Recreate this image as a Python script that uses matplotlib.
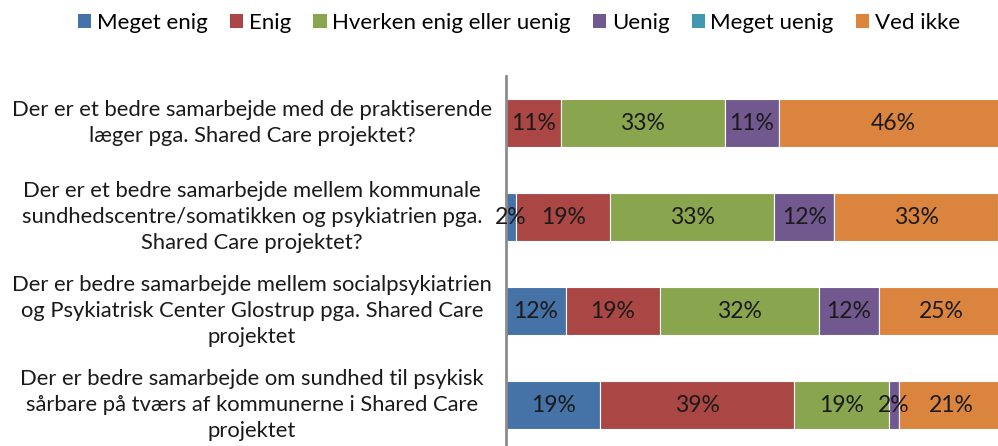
import matplotlib.pyplot as plt
import matplotlib.transforms as mtransforms
from matplotlib.patches import Patch

plt.rcParams['font.family'] = ['Lato', 'DejaVu Sans']

questions = [
    "Der er et bedre samarbejde med de praktiserende\nlæger pga. Shared Care projektet?",
    "Der er et bedre samarbejde mellem kommunale\nsundhedscentre/somatikken og psykiatrien pga.\nShared Care projektet?",
    "Der er bedre samarbejde mellem socialpsykiatrien\nog Psykiatrisk Center Glostrup pga. Shared Care\nprojektet",
    "Der er bedre samarbejde om sundhed til psykisk\nsårbare på tværs af kommunerne i Shared Care\nprojektet",
]
series = ["Meget enig", "Enig", "Hverken enig eller uenig", "Uenig", "Meget uenig", "Ved ikke"]
meget_enig = [0, 2, 12, 19]
enig = [11, 19, 19, 39]
hverken = [33, 33, 32, 19]
uenig = [11, 12, 12, 2]
meget_uenig = [0, 0, 0, 0]
ved_ikke = [46, 33, 25, 21]
colors = ["#4572a7", "#aa4643", "#89a54e", "#71588f", "#4198af", "#db843d"]

values = [meget_enig, enig, hverken, uenig, meget_uenig, ved_ikke]

fig = plt.figure(figsize=(9.98, 4.46), dpi=100)
# the plot area runs a little past the right edge of the picture
ax = fig.add_axes([506 / 998, 0, 497 / 998, 370 / 446])

y = list(range(len(questions)))
left = [0] * len(questions)
for name, vals, c in zip(series, values, colors):
    bars = ax.barh(y, vals, left=left, height=0.51, color=c, edgecolor='white', linewidth=0.8)
    for b, v in zip(bars, vals):
        if v > 0:
            ax.text(b.get_x() + b.get_width() / 2, b.get_y() + b.get_height() / 2,
                    f"{v}%", ha='center', va='center', fontsize=16.5, color='#1a1a1a')
    left = [l + v for l, v in zip(left, vals)]

ax.set_xlim(0, 100)
ax.set_ylim(-0.5 + 370 / 94, -0.5)
ax.set_xticks([])
ax.set_yticks([])
for s in ['top', 'right', 'bottom']:
    ax.spines[s].set_visible(False)
ax.spines['left'].set_color('#8c8c8c')
ax.spines['left'].set_linewidth(2)

trans = mtransforms.blended_transform_factory(fig.transFigure, ax.transData)
for i, q in enumerate(questions):
    ax.text(252 / 998, i, q, transform=trans, ha='center', va='center',
            multialignment='center', fontsize=15.8, linespacing=1.37, color='#1a1a1a')

handles = [Patch(facecolor=c, label=n) for n, c in zip(series, colors)]
fig.legend(handles=handles, loc='center', bbox_to_anchor=(519 / 998, 1 - 23 / 446),
           ncol=6, frameon=False, fontsize=16, handlelength=0.6, handleheight=0.6,
           handletextpad=0.25, columnspacing=1.0)

fig.savefig('out.png', dpi=100)
